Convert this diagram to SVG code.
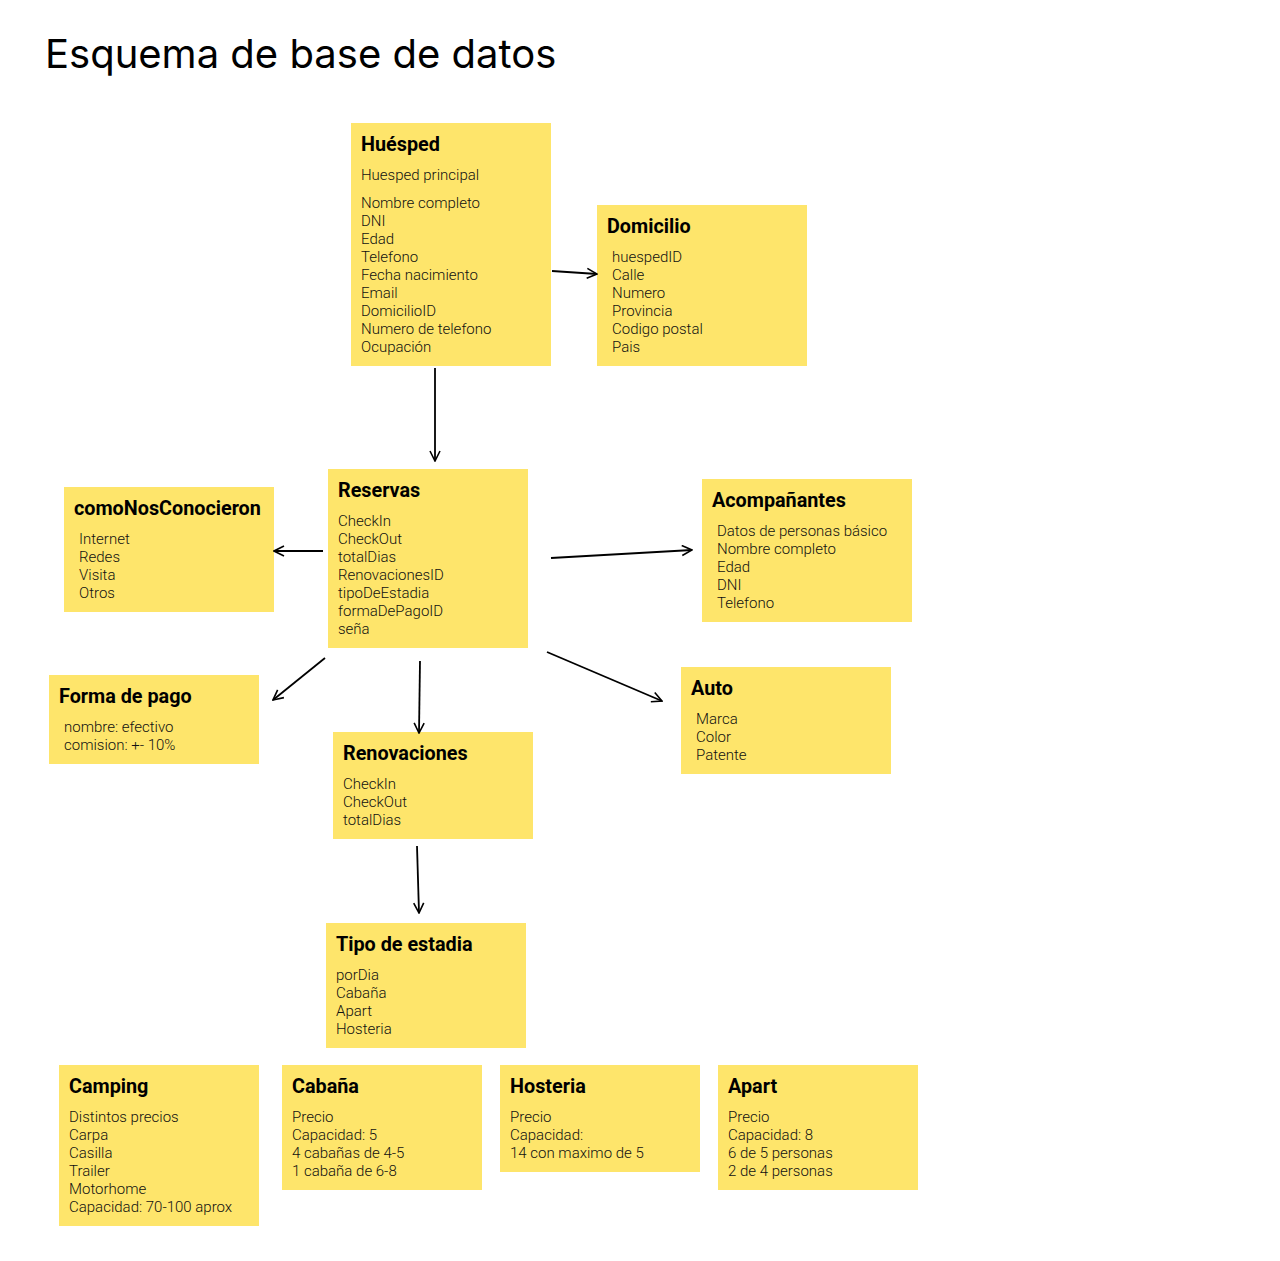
<svg xmlns="http://www.w3.org/2000/svg" width="1280" height="1261" viewBox="0 0 1280 1261">
<defs>
<marker id="arr" viewBox="0 0 12 12" refX="11" refY="6" markerWidth="12" markerHeight="12" markerUnits="userSpaceOnUse" orient="auto">
<path d="M1,1 L11,6 L1,11" fill="none" stroke="#000" stroke-width="1.6"/>
</marker>
<style>
.box{fill:#FEE56B}
.t{font-family:Roboto,"Liberation Sans",sans-serif;font-weight:700;font-size:19.8px;fill:#000}
.b{font-family:Roboto,"Liberation Sans",sans-serif;font-weight:300;font-size:15px;fill:#111}
.c{fill:none;stroke:#000;stroke-width:1.8;marker-end:url(#arr)}
</style>
</defs>
<rect width="1280" height="1261" fill="#fff"/>
<text x="45" y="68" font-family="Inter,'Liberation Sans',sans-serif" font-size="40" fill="#000">Esquema de base de datos</text>

<g id="huesped">
<rect class="box" x="351" y="123" width="200" height="243"/>
<text class="t" x="361" y="151">Huésped</text>
<text class="b" x="361" y="180">Huesped principal</text>
<text class="b" x="361" y="208">Nombre completo</text>
<text class="b" x="361" y="226">DNI</text>
<text class="b" x="361" y="244">Edad</text>
<text class="b" x="361" y="262">Telefono</text>
<text class="b" x="361" y="280">Fecha nacimiento</text>
<text class="b" x="361" y="298">Email</text>
<text class="b" x="361" y="316">DomicilioID</text>
<text class="b" x="361" y="334">Numero de telefono</text>
<text class="b" x="361" y="352">Ocupación</text>
</g>

<g id="domicilio">
<rect class="box" x="597" y="205" width="210" height="161"/>
<text class="t" x="607" y="233">Domicilio</text>
<text class="b" x="612" y="262">huespedID</text>
<text class="b" x="612" y="280">Calle</text>
<text class="b" x="612" y="298">Numero</text>
<text class="b" x="612" y="316">Provincia</text>
<text class="b" x="612" y="334">Codigo postal</text>
<text class="b" x="612" y="352">Pais</text>
</g>

<g id="reservas">
<rect class="box" x="328" y="469" width="200" height="179"/>
<text class="t" x="338" y="497">Reservas</text>
<text class="b" x="338" y="526">CheckIn</text>
<text class="b" x="338" y="544">CheckOut</text>
<text class="b" x="338" y="562">totalDias</text>
<text class="b" x="338" y="580">RenovacionesID</text>
<text class="b" x="338" y="598">tipoDeEstadia</text>
<text class="b" x="338" y="616">formaDePagoID</text>
<text class="b" x="338" y="634">seña</text>
</g>

<g id="como">
<rect class="box" x="64" y="487" width="210" height="125"/>
<text class="t" x="74" y="515">comoNosConocieron</text>
<text class="b" x="79" y="544">Internet</text>
<text class="b" x="79" y="562">Redes</text>
<text class="b" x="79" y="580">Visita</text>
<text class="b" x="79" y="598">Otros</text>
</g>

<g id="acompanantes">
<rect class="box" x="702" y="479" width="210" height="143"/>
<text class="t" x="712" y="507">Acompañantes</text>
<text class="b" x="717" y="536">Datos de personas básico</text>
<text class="b" x="717" y="554">Nombre completo</text>
<text class="b" x="717" y="572">Edad</text>
<text class="b" x="717" y="590">DNI</text>
<text class="b" x="717" y="608">Telefono</text>
</g>

<g id="formapago">
<rect class="box" x="49" y="675" width="210" height="89"/>
<text class="t" x="59" y="703">Forma de pago</text>
<text class="b" x="64" y="732">nombre: efectivo</text>
<text class="b" x="64" y="750">comision: +- 10%</text>
</g>

<g id="renovaciones">
<rect class="box" x="333" y="732" width="200" height="107"/>
<text class="t" x="343" y="760">Renovaciones</text>
<text class="b" x="343" y="789">CheckIn</text>
<text class="b" x="343" y="807">CheckOut</text>
<text class="b" x="343" y="825">totalDias</text>
</g>

<g id="auto">
<rect class="box" x="681" y="667" width="210" height="107"/>
<text class="t" x="691" y="695">Auto</text>
<text class="b" x="696" y="724">Marca</text>
<text class="b" x="696" y="742">Color</text>
<text class="b" x="696" y="760">Patente</text>
</g>

<g id="tipoestadia">
<rect class="box" x="326" y="923" width="200" height="125"/>
<text class="t" x="336" y="951">Tipo de estadia</text>
<text class="b" x="336" y="980">porDia</text>
<text class="b" x="336" y="998">Cabaña</text>
<text class="b" x="336" y="1016">Apart</text>
<text class="b" x="336" y="1034">Hosteria</text>
</g>

<g id="camping">
<rect class="box" x="59" y="1065" width="200" height="161"/>
<text class="t" x="69" y="1093">Camping</text>
<text class="b" x="69" y="1122">Distintos precios</text>
<text class="b" x="69" y="1140">Carpa</text>
<text class="b" x="69" y="1158">Casilla</text>
<text class="b" x="69" y="1176">Trailer</text>
<text class="b" x="69" y="1194">Motorhome</text>
<text class="b" x="69" y="1212">Capacidad: 70-100 aprox</text>
</g>

<g id="cabana">
<rect class="box" x="282" y="1065" width="200" height="125"/>
<text class="t" x="292" y="1093">Cabaña</text>
<text class="b" x="292" y="1122">Precio</text>
<text class="b" x="292" y="1140">Capacidad: 5</text>
<text class="b" x="292" y="1158">4 cabañas de 4-5</text>
<text class="b" x="292" y="1176">1 cabaña de 6-8</text>
</g>

<g id="hosteria">
<rect class="box" x="500" y="1065" width="200" height="107"/>
<text class="t" x="510" y="1093">Hosteria</text>
<text class="b" x="510" y="1122">Precio</text>
<text class="b" x="510" y="1140">Capacidad:</text>
<text class="b" x="510" y="1158">14 con maximo de 5</text>
</g>

<g id="apart">
<rect class="box" x="718" y="1065" width="200" height="125"/>
<text class="t" x="728" y="1093">Apart</text>
<text class="b" x="728" y="1122">Precio</text>
<text class="b" x="728" y="1140">Capacidad: 8</text>
<text class="b" x="728" y="1158">6 de 5 personas</text>
<text class="b" x="728" y="1176">2 de 4 personas</text>
</g>

<g id="connectors">
<path class="c" d="M552,271 L597,274"/>
<path class="c" d="M435,368 L435,461"/>
<path class="c" d="M323,551 L274,551"/>
<path class="c" d="M551,558 L692,550"/>
<path class="c" d="M325,658 L273,700"/>
<path class="c" d="M420,661 L419,733"/>
<path class="c" d="M547,652 L662,701"/>
<path class="c" d="M417,846 L419,913"/>
</g>
</svg>
